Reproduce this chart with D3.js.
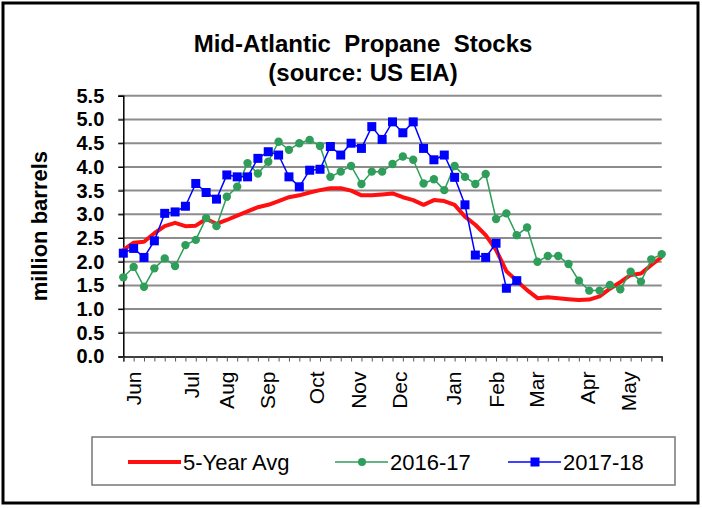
<!DOCTYPE html>
<html>
<head>
<meta charset="utf-8">
<script src="https://cdn.jsdelivr.net/npm/d3@7"></script>
<style>
  body { margin: 0; background: #fff; }
  text { font-family: "Liberation Sans", Arial, sans-serif; fill: #000; }
</style>
</head>
<body>
<div id="chart"></div>
<script>
// weekly stocks, million barrels (week 0 = first week of June)
var avg5 = [2.25, 2.4, 2.42, 2.6, 2.75, 2.82, 2.75, 2.76, 2.9, 2.8,
            2.88, 2.97, 3.06, 3.15, 3.2, 3.28, 3.36, 3.4, 3.46, 3.51,
            3.55, 3.55, 3.5, 3.4, 3.4, 3.42, 3.44, 3.36, 3.3, 3.2,
            3.3, 3.28, 3.2, 2.95, 2.78, 2.56, 2.25, 1.8, 1.6, 1.4,
            1.23, 1.25, 1.23, 1.21, 1.19, 1.2, 1.27, 1.43, 1.57, 1.72,
            1.75, 1.93, 2.1];
var s1617 = [1.67, 1.89, 1.47, 1.86, 2.07, 1.91, 2.35, 2.46, 2.92, 2.75,
             3.37, 3.58, 4.08, 3.86, 4.11, 4.53, 4.36, 4.5, 4.57, 4.44,
             3.79, 3.9, 4.02, 3.64, 3.9, 3.9, 4.06, 4.22, 4.15, 3.65,
             3.74, 3.51, 4.02, 3.79, 3.64, 3.85, 2.9, 3.02, 2.56, 2.72,
             2.0, 2.12, 2.12, 1.95, 1.6, 1.39, 1.39, 1.51, 1.42, 1.79,
             1.58, 2.05, 2.16];
var s1718 = [2.18, 2.28, 2.09, 2.44, 3.02, 3.05, 3.17, 3.65, 3.46, 3.32,
             3.83, 3.79, 3.79, 4.18, 4.32, 4.25, 3.79, 3.58, 3.93, 3.95,
             4.43, 4.25, 4.5, 4.39, 4.85, 4.58, 4.95, 4.72, 4.95, 4.39,
             4.15, 4.25, 3.78, 3.2, 2.14, 2.09, 2.39, 1.44, 1.6];
var months = ["Jun", "Jul", "Aug", "Sep", "Oct", "Nov", "Dec", "Jan", "Feb", "Mar", "Apr", "May"];
var monthWeek = [1, 6.6, 10, 13.9, 18.7, 22.7, 26.7, 31.9, 36.1, 39.9, 44.8, 48.8];
var yTicks = [0, 0.5, 1, 1.5, 2, 2.5, 3, 3.5, 4, 4.5, 5, 5.5];

var W = 702, H = 508;
var svg = d3.select("#chart").append("svg")
  .attr("width", W).attr("height", H);

// outer frame
svg.append("rect")
  .attr("x", 3).attr("y", 3).attr("width", W - 7).attr("height", H - 8)
  .attr("fill", "#fff").attr("stroke", "#000").attr("stroke-width", 3);

var x = d3.scaleLinear().domain([0, 52]).range([123.3, 661.7]);
var y = d3.scaleLinear().domain([0, 5.5]).range([356.5, 95.8]);

// title
svg.append("text").attr("x", 363).attr("y", 52)
  .attr("text-anchor", "middle").style("white-space", "pre")
  .style("font-size", "24px").style("font-weight", "bold")
  .text("Mid-Atlantic  Propane  Stocks");
svg.append("text").attr("x", 363).attr("y", 81)
  .attr("text-anchor", "middle")
  .style("font-size", "24px").style("font-weight", "bold")
  .text("(source: US EIA)");

// gridlines
svg.append("g").selectAll("line")
  .data(yTicks.filter(function (d) { return d > 0; }))
  .enter().append("line")
  .attr("x1", x(0) - 5).attr("x2", x(52))
  .attr("y1", function (d) { return y(d); })
  .attr("y2", function (d) { return y(d); })
  .attr("stroke", "#8c8c8c").attr("stroke-width", 2);

// y axis
var yAxis = svg.append("g")
  .attr("transform", "translate(" + x(0) + ",0)")
  .call(d3.axisLeft(y).tickValues(yTicks).tickSize(5).tickPadding(14)
    .tickFormat(d3.format(".1f")));
yAxis.select(".domain").attr("stroke", "#000").attr("stroke-width", 1.5);
yAxis.selectAll(".tick line").attr("stroke", "#000");
yAxis.selectAll("text")
  .style("font-size", "20px").style("font-weight", "bold")
  .style("font-family", "'Liberation Sans', Arial, sans-serif");

svg.append("text")
  .attr("transform", "translate(47," + y(2.75) + ") rotate(-90)")
  .attr("text-anchor", "middle")
  .style("font-size", "22px").style("font-weight", "bold")
  .text("million barrels");

// x axis, weekly ticks
var xAxis = svg.append("g")
  .attr("transform", "translate(0," + y(0) + ")")
  .call(d3.axisBottom(x).tickValues(d3.range(0, 53)).tickSize(5).tickFormat(""));
xAxis.select(".domain").attr("stroke", "#000").attr("stroke-width", 1.5);
xAxis.selectAll(".tick line").attr("stroke", "#555");

svg.append("g").selectAll("text")
  .data(months).enter().append("text")
  .attr("transform", function (d, i) {
    return "translate(" + x(monthWeek[i]) + "," + (y(0) + 15) + ") rotate(-90)";
  })
  .attr("dy", "0.35em")
  .attr("text-anchor", "end")
  .style("font-size", "21px")
  .text(function (d) { return d; });

// series
var line = d3.line()
  .x(function (d, i) { return x(i); })
  .y(function (d) { return y(d); });

var red = "#ff1010", green = "#2e9e5a", blue = "#0000ff";

svg.append("path").datum(avg5)
  .attr("d", line).attr("fill", "none")
  .attr("stroke", red).attr("stroke-width", 4).attr("stroke-linejoin", "round");

svg.append("path").datum(s1617)
  .attr("d", line).attr("fill", "none")
  .attr("stroke", green).attr("stroke-width", 1.5);
svg.append("g").selectAll("circle")
  .data(s1617).enter().append("circle")
  .attr("cx", function (d, i) { return x(i); })
  .attr("cy", function (d) { return y(d); })
  .attr("r", 4.2).attr("fill", green);

svg.append("path").datum(s1718)
  .attr("d", line).attr("fill", "none")
  .attr("stroke", blue).attr("stroke-width", 1.5);
svg.append("g").selectAll("rect")
  .data(s1718).enter().append("rect")
  .attr("x", function (d, i) { return x(i) - 4.5; })
  .attr("y", function (d) { return y(d) - 4.5; })
  .attr("width", 9).attr("height", 9).attr("fill", blue);

// legend
var lg = svg.append("g");
lg.append("rect").attr("x", 92).attr("y", 437).attr("width", 583).attr("height", 48)
  .attr("fill", "#fff").attr("stroke", "#777").attr("stroke-width", 1.5);

var legendItems = [
  {name: "5-Year Avg", color: red, x0: 128, mark: "none", w: 4},
  {name: "2016-17", color: green, x0: 335, mark: "circle", w: 1.5},
  {name: "2017-18", color: blue, x0: 508, mark: "square", w: 1.5}
];
legendItems.forEach(function (d) {
  var ly = 462;
  lg.append("line").attr("x1", d.x0).attr("x2", d.x0 + 53)
    .attr("y1", ly).attr("y2", ly)
    .attr("stroke", d.color).attr("stroke-width", d.w);
  if (d.mark == "circle") {
    lg.append("circle").attr("cx", d.x0 + 27).attr("cy", ly).attr("r", 4).attr("fill", d.color);
  } else if (d.mark == "square") {
    lg.append("rect").attr("x", d.x0 + 22.5).attr("y", ly - 4.5)
      .attr("width", 9).attr("height", 9).attr("fill", d.color);
  }
  lg.append("text").attr("x", d.x0 + 55).attr("y", ly + 8)
    .style("font-size", "22px").text(d.name);
});
</script>
</body>
</html>
